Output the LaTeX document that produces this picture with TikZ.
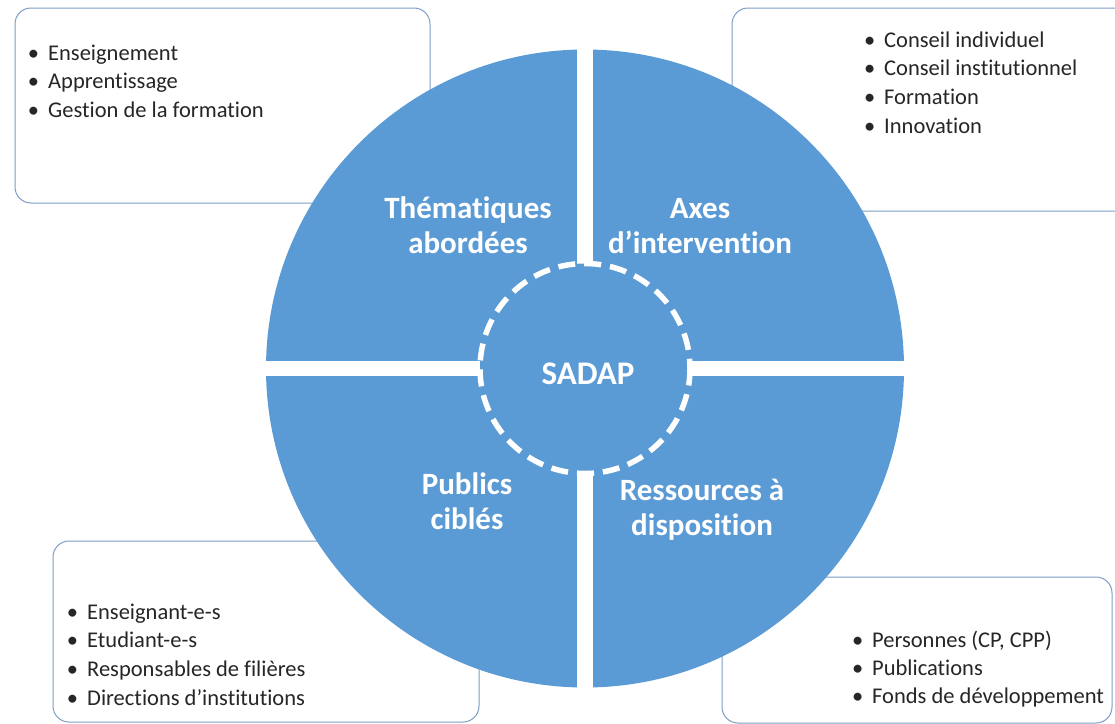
\documentclass[tikz,border=0pt]{standalone}
\usepackage{fontspec}
\setmainfont{Carlito}[Ligatures=NoCommon]
\usepackage{tikz}
\definecolor{sadapblue}{RGB}{91,155,213}
\definecolor{boxline}{RGB}{125,157,197}
\definecolor{itemtext}{RGB}{38,38,38}
\newcommand{\puce}{\llap{\textbullet\hspace{9pt}}}

\begin{document}
\begin{tikzpicture}[x=1pt,y=-1pt]
	\tikzstyle{listbox}=[draw=boxline,line width=1pt,fill=white,rounded corners=16pt]
	\tikzstyle{item}=[anchor=base west,inner sep=0pt,text=itemtext,font=\fontsize{22.5}{28}\selectfont]
	\tikzstyle{title}=[anchor=base,inner sep=0pt,align=center,text=white,font=\fontsize{31}{35}\selectfont\bfseries]
	\useasboundingbox (0,0) rectangle (1115,723);
	% cadres
	\draw[listbox] (15,8) rectangle (430,203);
	\draw[listbox] (732,8) rectangle (1135,211);
	\draw[listbox] (53,541) rectangle (479,722);
	\draw[listbox] (722,577) rectangle (1112,723);
	% cercle
	\fill[sadapblue] (585,368.5) circle (319);
	\fill[white] (577,40) rectangle (593,700);
	\fill[white] (255,361) rectangle (915,376);
	\draw[white,line width=5.5pt,dash pattern=on 17pt off 9pt,fill=sadapblue] (585,368.5) circle (105);
	% titres (ancre base = derniere ligne)
	\node[title] (them) at (468,253) {Thématiques\\abordées};
	\node[title] (axes) at (700,253) {Axes\\d’intervention};
	\node[title] (publ) at (467,529) {Publics\\ciblés};
	\node[title] (ress) at (702,535) {Ressources à\\disposition};
	\node[title,font=\fontsize{33}{35}\selectfont\bfseries] (sadap) at (588,384) {SADAP};
	% listes
	\foreach \t [count=\i from 0] in {Enseignement,Apprentissage,Gestion de la formation}
		\node[item] (them\i) at (48,60+28.5*\i) {\puce\t};
	\foreach \t [count=\i from 0] in {Conseil individuel,Conseil institutionnel,Formation,Innovation}
		\node[item] (axes\i) at (884,47+28.7*\i) {\puce\t};
	\foreach \t [count=\i from 0] in {Enseignant-e-s,Etudiant-e-s,Responsables de filières,Directions d’institutions}
		\node[item] (publ\i) at (87,619+28.7*\i) {\puce\t};
	\foreach \t [count=\i from 0] in {{Personnes (CP, CPP)},Publications,Fonds de développement}
		\node[item] (ress\i) at (872,647+28*\i) {\puce\t};
\end{tikzpicture}
\end{document}
